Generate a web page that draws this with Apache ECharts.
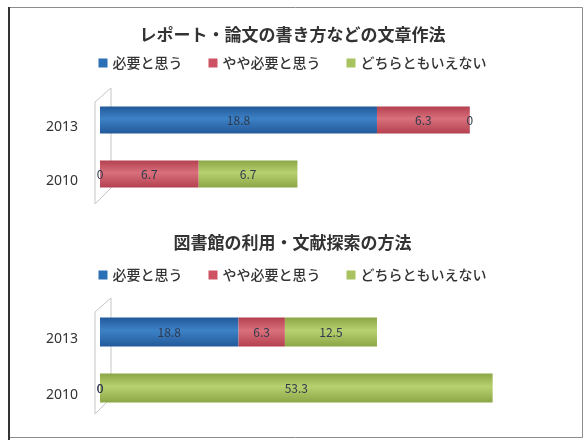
<!DOCTYPE html>
<html>
<head>
<meta charset="utf-8">
<script src="https://cdn.jsdelivr.net/npm/echarts@6/dist/echarts.min.js"></script>
<style>
  html, body { margin: 0; padding: 0; background: #ffffff; }
  #chart { width: 585px; height: 440px; }
</style>
</head>
<body>
<div id="chart"></div>
<script>
// ---- data ----
const categories = ['2013', '2010'];
const seriesNames = ['必要と思う', 'やや必要と思う', 'どちらともいえない'];

const chart1Title = 'レポート・論文の書き方などの文章作法';
const chart1Need = [18.8, 0];
const chart1Somewhat = [6.3, 6.7];
const chart1Neutral = [0, 6.7];

const chart2Title = '図書館の利用・文献探索の方法';
const chart2Need = [18.8, 0];
const chart2Somewhat = [6.3, 0];
const chart2Neutral = [12.5, 53.3];

const axisMax = [30, 60];

// ---- styling ----
const FONT = '"Noto Sans CJK JP", "Noto Sans", sans-serif';
function cyl(edge, mid) {
  return new echarts.graphic.LinearGradient(0, 0, 0, 1, [
    { offset: 0, color: edge },
    { offset: 0.45, color: mid },
    { offset: 1, color: edge }
  ]);
}
const fills = [
  cyl('#22599a', '#3d82c6'),
  cyl('#b4404f', '#d9707c'),
  cyl('#8ba646', '#b8d170')
];
const legendColors = ['#2a70b4', '#cc5264', '#a7c25e'];

function makeSeries(values, idx, gi, barW) {
  return {
    name: seriesNames[idx],
    type: 'bar',
    stack: 'g' + gi,
    xAxisIndex: gi,
    yAxisIndex: gi,
    barWidth: barW,
    data: values,
    itemStyle: { color: fills[idx] },
    label: {
      show: true,
      position: 'inside',
      formatter: '{c}',
      fontFamily: FONT,
      fontSize: 12,
      color: '#2f3a4e'
    },
    emphasis: { disabled: true }
  };
}

function legendFor(top) {
  return {
    top: top,
    left: 'center',
    icon: 'rect',
    itemWidth: 9,
    itemHeight: 9,
    itemGap: 26,
    textStyle: { fontFamily: FONT, fontSize: 14, fontWeight: 500, color: '#333' },
    data: seriesNames.map((n, i) => ({ name: n, itemStyle: { color: legendColors[i] } }))
  };
}

function yAxisFor(gi) {
  return {
    type: 'category',
    gridIndex: gi,
    data: categories,
    inverse: true,
    axisLine: { show: false },
    axisTick: { show: false },
    axisLabel: {
      margin: 22,
      fontFamily: '"Noto Sans", sans-serif',
      fontSize: 14,
      lineHeight: 14,
      verticalAlign: 'top',
      color: '#333'
    }
  };
}

function xAxisFor(gi) {
  return {
    type: 'value',
    gridIndex: gi,
    min: 0,
    max: axisMax[gi],
    show: false,
    splitLine: { show: false }
  };
}

function bracket(y0) {
  return {
    type: 'polygon',
    z: 0,
    shape: { points: [[95, y0 + 14], [111, y0], [111, y0 + 100], [95, y0 + 116]] },
    style: { fill: 'none', stroke: '#c6c6c6', lineWidth: 1 }
  };
}

const chart = echarts.init(document.getElementById('chart'), null, { renderer: 'canvas' });
chart.setOption({
  backgroundColor: '#ffffff',
  animation: false,
  title: [
    { text: chart1Title, left: 'center', top: 21,
      textStyle: { fontFamily: FONT, fontSize: 17, fontWeight: 'bold', color: '#333' } },
    { text: chart2Title, left: 'center', top: 229,
      textStyle: { fontFamily: FONT, fontSize: 17, fontWeight: 'bold', color: '#333' } }
  ],
  legend: [legendFor(51), legendFor(263)],
  grid: [
    { left: 100, width: 442, top: 93, height: 108 },
    { left: 100, width: 442, top: 304, height: 112 }
  ],
  xAxis: [xAxisFor(0), xAxisFor(1)],
  yAxis: [yAxisFor(0), yAxisFor(1)],
  series: [
    makeSeries(chart1Need, 0, 0, 27),
    makeSeries(chart1Somewhat, 1, 0, 27),
    makeSeries(chart1Neutral, 2, 0, 27),
    makeSeries(chart2Need, 0, 1, 29),
    makeSeries(chart2Somewhat, 1, 1, 29),
    makeSeries(chart2Neutral, 2, 1, 29)
  ],
  graphic: [
    { type: 'rect', z: 0, shape: { x: 8.5, y: 7.5, width: 574, height: 430 },
      style: { fill: 'none', stroke: '#8c8c8c', lineWidth: 1 } },
    { type: 'line', z: 0, shape: { x1: 9, y1: 7, x2: 9, y2: 440 },
      style: { stroke: '#333', lineWidth: 2 } },
    bracket(88),
    bracket(298)
  ]
});
</script>
</body>
</html>
